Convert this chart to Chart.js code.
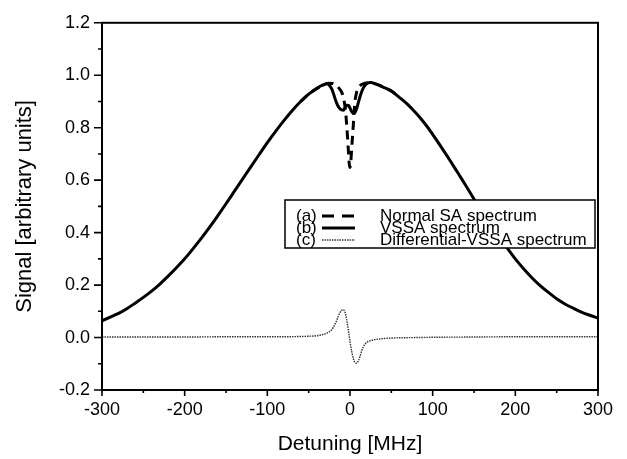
<!DOCTYPE html>
<html>
<head>
<meta charset="utf-8">
<script src="https://cdn.jsdelivr.net/npm/chart.js@4.4.1/dist/chart.umd.min.js"></script>
<style>
  html, body { margin: 0; padding: 0; background: #fff; }
  #wrap { width: 627px; height: 459px; }
</style>
</head>
<body>
<div id="wrap"><canvas id="plot" width="627" height="459"></canvas></div>
<script>
// Detuning (MHz) and signal values
var vssaX = [-300,-290,-280,-270,-260,-250,-240,-230,-220,-210,-200,-190,-180,-170,-160,-150,-140,-130,-120,-110,-100,-90,-80,-70,-60,-50,-40,
  -35,-30,-28,-26,-24,-22,-20,-18,-16,-14,-12,-10,-8,-6,-4,-2,0,2,4,6,8,10,12,14,16,18,20,22,24,26,28,30,35,40,
  50,60,70,80,90,100,110,120,130,140,150,160,170,180,190,200,210,220,230,240,250,260,270,280,290,300];
var vssaY = [0.064,0.078,0.092,0.110,0.131,0.153,0.177,0.204,0.234,0.266,0.300,0.338,0.378,0.420,0.464,0.510,0.557,0.604,0.651,0.697,0.743,0.786,0.827,0.865,0.899,0.928,0.950,
  0.960,0.966,0.968,0.965,0.958,0.947,0.930,0.910,0.893,0.880,0.872,0.868,0.867,0.876,0.886,0.885,0.875,0.862,0.855,0.858,0.872,0.895,0.917,0.936,0.951,0.961,0.967,0.971,0.972,0.972,0.970,0.968,0.962,0.955,
  0.940,0.915,0.888,0.855,0.818,0.775,0.728,0.680,0.630,0.580,0.528,0.478,0.430,0.385,0.342,0.300,0.262,0.228,0.198,0.172,0.148,0.128,0.112,0.097,0.085,0.074];

var saX = [-60,-50,-40,-30,-26,-22,-20,-16,-12,-10,-8,-6,-5,-4,-3,-2,-1,0,1,2,3,4,5,6,8,10,12,14,18,24,30,40,50,60];
var saY = [0.899,0.928,0.950,0.966,0.970,0.969,0.968,0.960,0.945,0.935,0.915,0.880,0.850,0.810,0.765,0.715,0.665,0.648,0.670,0.720,0.765,0.810,0.860,0.900,0.935,0.952,0.960,0.965,0.970,0.972,0.968,0.955,0.940,0.915];

var diffX = [-300,-250,-200,-150,-100,-80,-60,-50,-40,-35,-30,-25,-22,-20,-18,-16,-14,-12,-10,-8,-6,-4,-2,0,2,4,6,8,10,12,14,16,18,20,25,30,40,50,60,80,100,150,200,250,300];
var diffY = [0.002,0.002,0.002,0.003,0.003,0.003,0.004,0.005,0.007,0.010,0.014,0.022,0.030,0.040,0.052,0.066,0.082,0.096,0.104,0.106,0.096,0.068,0.028,-0.015,-0.052,-0.080,-0.095,-0.098,-0.090,-0.072,-0.052,-0.036,-0.026,-0.019,-0.012,-0.008,-0.004,-0.002,-0.001,0.000,0.001,0.002,0.003,0.003,0.003];

var xMajor = [-300,-200,-100,0,100,200,300];
var xMinor = [-250,-150,-50,50,150,250];
var yMajor = [-0.2,0.0,0.2,0.4,0.6,0.8,1.0,1.2];
var yMinor = [-0.1,0.1,0.3,0.5,0.7,0.9,1.1];

var legendTags = ['(a)','(b)','(c)'];
var legendNames = ['Normal SA spectrum','VSSA spectrum','Differential-VSSA spectrum'];

var FONT = 'Arial, "Liberation Sans", sans-serif';

function pts(xs, ys) {
  return xs.map(function(x, i) { return {x: x, y: ys[i]}; });
}
function isMajor(list, v) {
  return list.some(function(m) { return Math.abs(m - v) < 1e-6; });
}
function setTicks(major, minor) {
  return function(scale) {
    scale.ticks = major.concat(minor).sort(function(a, b) { return a - b; })
      .map(function(v) { return {value: v}; });
  };
}

// frame, outward tick marks and the boxed legend
var decor = {
  id: 'decor',
  afterDatasetsDraw: function(chart) {
    var ctx = chart.ctx, a = chart.chartArea;
    var xs = chart.scales.x, ys = chart.scales.y;
    ctx.save();
    ctx.strokeStyle = '#000';
    ctx.lineWidth = 2;
    ctx.strokeRect(a.left, a.top, a.right - a.left, a.bottom - a.top);

    ctx.lineWidth = 1.6;
    ctx.beginPath();
    xs.ticks.forEach(function(t) {
      var px = xs.getPixelForValue(t.value);
      var len = isMajor(xMajor, t.value) ? 6 : 3;
      ctx.moveTo(px, a.bottom); ctx.lineTo(px, a.bottom + len);
    });
    ys.ticks.forEach(function(t) {
      var py = ys.getPixelForValue(t.value);
      var len = isMajor(yMajor, t.value) ? 8 : 4;
      ctx.moveTo(a.left, py); ctx.lineTo(a.left - len, py);
    });
    ctx.stroke();

    // legend box
    var bx = 285, by = 200, bw = 310, bh = 48;
    ctx.fillStyle = '#fff';
    ctx.fillRect(bx, by, bw, bh);
    ctx.lineWidth = 1.5;
    ctx.strokeRect(bx, by, bw, bh);

    var rows = [216, 228, 240];
    ctx.font = '17px ' + FONT;
    ctx.fillStyle = '#000';
    ctx.textBaseline = 'middle';
    chart.data.datasets.forEach(function(ds, i) {
      var y = rows[i];
      ctx.fillText(legendTags[i], 296, y);
      ctx.save();
      ctx.strokeStyle = ds.borderColor;
      ctx.lineWidth = ds.borderWidth;
      ctx.setLineDash(i === 0 ? [12, 8] : (ds.borderDash || []));
      ctx.beginPath();
      ctx.moveTo(322, y); ctx.lineTo(355, y);
      ctx.stroke();
      ctx.restore();
      ctx.fillText(legendNames[i], 380, y);
    });
    ctx.restore();
  }
};

new Chart(document.getElementById('plot'), {
  type: 'line',
  data: {
    datasets: [
      {label: legendNames[0], data: pts(saX, saY), borderColor: '#000', borderWidth: 3, borderDash: [9, 6], order: 1},
      {label: legendNames[1], data: pts(vssaX, vssaY), borderColor: '#000', borderWidth: 3, order: 2},
      {label: legendNames[2], data: pts(diffX, diffY), borderColor: '#333', borderWidth: 1.4, borderDash: [1.5, 1], order: 3}
    ]
  },
  options: {
    responsive: false,
    animation: false,
    events: [],
    layout: {padding: {left: 0, right: 29, top: 16, bottom: 0}},
    elements: {
      point: {radius: 0},
      line: {cubicInterpolationMode: 'monotone', fill: false}
    },
    plugins: {
      legend: {display: false},
      tooltip: {enabled: false}
    },
    scales: {
      x: {
        type: 'linear',
        min: -300, max: 300,
        afterBuildTicks: setTicks(xMajor, xMinor),
        afterFit: function(s) { s.height = 69; },
        grid: {display: false, drawTicks: false},
        border: {display: false},
        ticks: {
          autoSkip: false, maxRotation: 0, padding: 9,
          color: '#000', font: {family: FONT, size: 18},
          callback: function(v) { return isMajor(xMajor, v) ? String(v) : ''; }
        },
        title: {display: true, text: 'Detuning [MHz]', color: '#000', font: {family: FONT, size: 21}, padding: {top: 2, bottom: 2}}
      },
      y: {
        type: 'linear',
        min: -0.2, max: 1.2,
        afterBuildTicks: setTicks(yMajor, yMinor),
        afterFit: function(s) { s.width = 102; },
        grid: {display: false, drawTicks: false},
        border: {display: false},
        ticks: {
          autoSkip: false, padding: 12,
          color: '#000', font: {family: FONT, size: 18},
          callback: function(v) { return isMajor(yMajor, v) ? v.toFixed(1) : ''; }
        },
        title: {display: true, text: 'Signal [arbitrary units]', color: '#000', font: {family: FONT, size: 22}, padding: {top: 12, bottom: 4}}
      }
    }
  },
  plugins: [decor]
});
</script>
</body>
</html>
